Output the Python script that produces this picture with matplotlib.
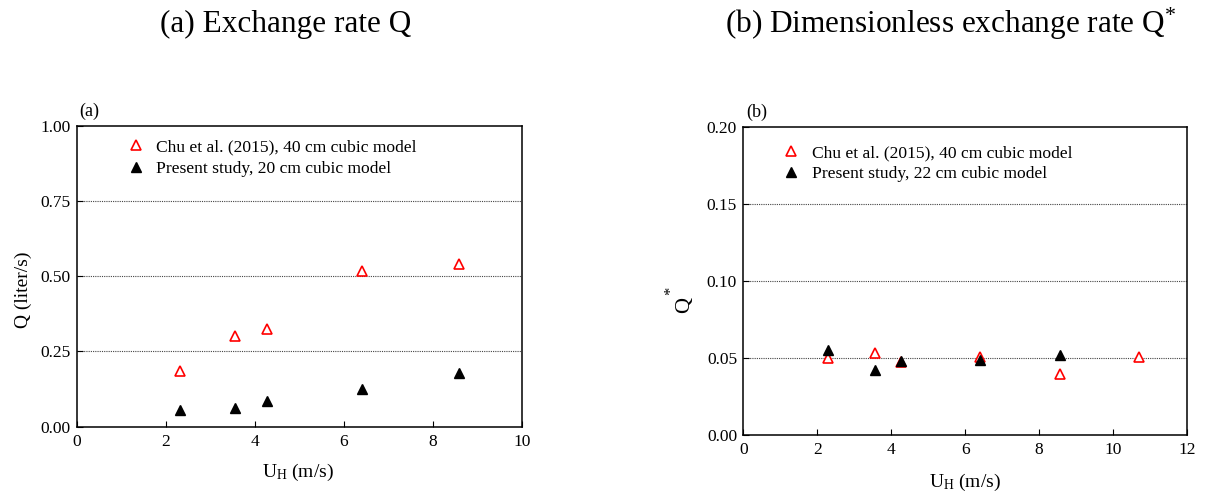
import matplotlib
matplotlib.use("Agg")
import matplotlib.pyplot as plt

plt.rcParams['font.family'] = ['Liberation Serif', 'DejaVu Serif']
plt.rcParams['mathtext.fontset'] = 'custom'
plt.rcParams['mathtext.rm'] = 'Liberation Serif'
plt.rcParams['mathtext.it'] = 'Liberation Serif'

# Panel (a): exchange rate Q
uh_chu_a = [2.31, 3.55, 4.27, 6.40, 8.58]
q_chu = [0.186, 0.302, 0.324, 0.516, 0.542]
uh_present_a = [2.31, 3.55, 4.27, 6.40, 8.58]
q_present = [0.057, 0.063, 0.085, 0.126, 0.180]

# Panel (b): dimensionless exchange rate Q*
uh_chu_b = [2.30, 3.55, 4.27, 6.40, 8.57, 10.71]
qs_chu = [0.0499, 0.0532, 0.0472, 0.0506, 0.0398, 0.0504]
uh_present_b = [2.30, 3.55, 4.27, 6.40, 8.57]
qs_present = [0.0549, 0.0424, 0.0480, 0.0489, 0.0517]

label_chu = "Chu et al. (2015), 40 cm cubic model"
label_present_a = "Present study, 20 cm cubic model"
label_present_b = "Present study, 22 cm cubic model"

W, H = 1205, 498
fig = plt.figure(figsize=(W / 100, H / 100), dpi=100)

def fx(px):
    return px / W

def fy(py):
    return 1 - py / H

def add_ax(x0, x1, ytop, ybot):
    return fig.add_axes([fx(x0), fy(ybot), (x1 - x0) / W, (ybot - ytop) / H])

axA = add_ax(76.7, 522.0, 125.7, 426.7)
axB = add_ax(743.3, 1187.0, 126.7, 435.0)

def style(ax, xlim, xticks, ylim, yticks, grid):
    ax.set_xlim(*xlim)
    ax.set_ylim(*ylim)
    ax.set_xticks(xticks)
    ax.set_yticks(yticks)
    ax.set_yticklabels([f"{v:.2f}" for v in yticks])
    ax.tick_params(direction='in', length=4, width=0.8, labelsize=12.5, pad=4.5)
    ax.tick_params(axis='x', pad=5)
    for g in grid:
        ax.axhline(g, color='#444444', linestyle=(0, (1, 1)), linewidth=0.8, zorder=0)
    for s in ax.spines.values():
        s.set_linewidth(1.1)

style(axA, (0, 10), [0, 2, 4, 6, 8, 10], (0, 1.0), [0, 0.25, 0.5, 0.75, 1.0], [0.25, 0.5, 0.75])
style(axB, (0, 12), [0, 2, 4, 6, 8, 10, 12], (0, 0.2), [0, 0.05, 0.10, 0.15, 0.20], [0.05, 0.10, 0.15])

ms = 7
axA.plot(uh_chu_a, q_chu, '^', mfc='white', mec='red', mew=1.2, ms=ms, linestyle='none', label=label_chu, zorder=3)
axA.plot(uh_present_a, q_present, '^', mfc='black', mec='black', ms=ms, linestyle='none', label=label_present_a, zorder=3)
axB.plot(uh_chu_b, qs_chu, '^', mfc='white', mec='red', mew=1.2, ms=ms, linestyle='none', label=label_chu, zorder=3)
axB.plot(uh_present_b, qs_present, '^', mfc='black', mec='black', ms=ms, linestyle='none', label=label_present_b, zorder=3)

def legend_at(ax, marker_x, row1_y, spacing):
    return ax.legend(loc='upper left', frameon=False, fontsize=12.6,
                     handletextpad=0.6, labelspacing=spacing, handlelength=1.2,
                     borderpad=0, borderaxespad=0,
                     bbox_to_anchor=(fx(marker_x - 11), fy(row1_y - 7)),
                     bbox_transform=fig.transFigure)

legend_at(axA, 136, 145.7, 0.35)
legend_at(axB, 791, 152.2, 0.25)

# x labels
fig.text(fx(298), fy(472), r"U$_\mathregular{H}$ (m/s)", fontsize=14, ha='center', va='center')
fig.text(fx(965), fy(482), r"U$_\mathregular{H}$ (m/s)", fontsize=14, ha='center', va='center')

# y labels
fig.text(fx(23), fy(289.7), "Q (liter/s)", fontsize=14, rotation=90, ha='center', va='center')
fig.text(fx(685), fy(305), "Q", fontsize=16, rotation=90, ha='center', va='center')
fig.text(fx(671), fy(291), "*", fontsize=12, rotation=90, ha='center', va='center')

# panel letters
fig.text(fx(79.3), fy(111.5), "(a)", fontsize=13, ha='left', va='center')
fig.text(fx(746), fy(112), "(b)", fontsize=13, ha='left', va='center')

# titles
fig.text(fx(160), fy(24), "(a) Exchange rate Q", fontsize=22.5, ha='left', va='center')
fig.text(fx(725), fy(24), r"(b) Dimensionless exchange rate Q$^\mathregular{*}$", fontsize=22.5, ha='left', va='center')

fig.savefig("out.png", dpi=100)
